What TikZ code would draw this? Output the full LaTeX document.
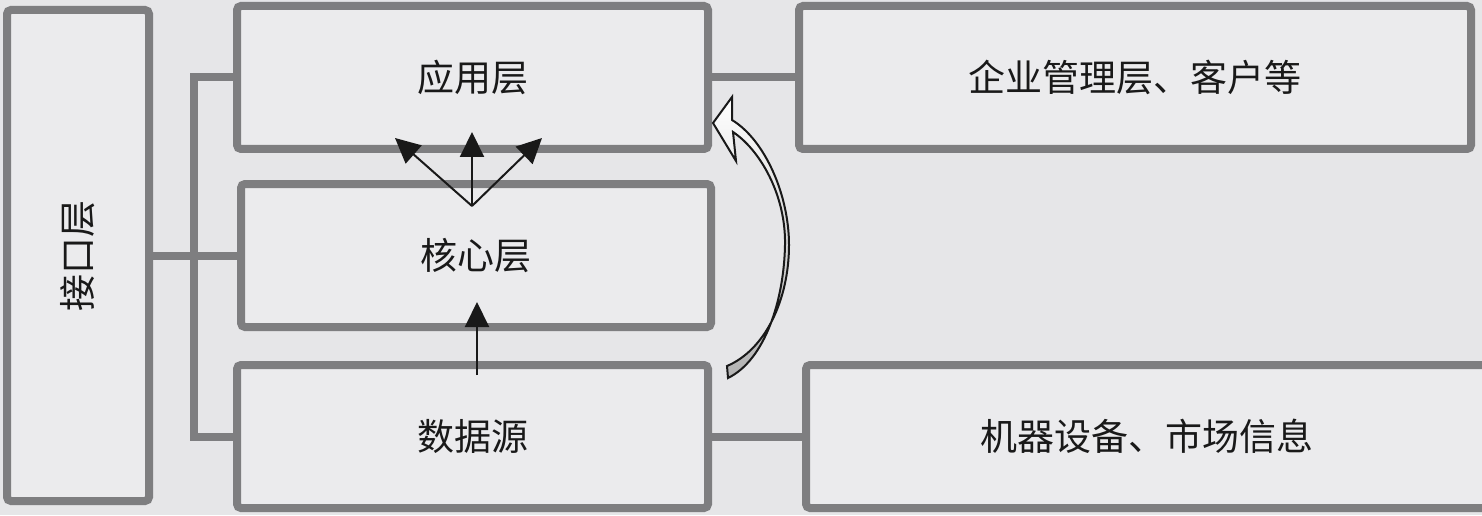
\documentclass[tikz,border=0pt]{standalone}
\usepackage{fontspec}
\usepackage{graphicx}
\usepackage{xcolor}
\usetikzlibrary{arrows.meta}
\newfontfamily\cjk{Noto Sans CJK SC}
\definecolor{bgcol}{RGB}{230,230,232}
\definecolor{boxcol}{RGB}{235,235,237}
\definecolor{edgecol}{RGB}{126,126,128}
\definecolor{inkcol}{RGB}{25,25,25}

\begin{document}
\begin{tikzpicture}[x=0.5pt,y=0.5pt,
  layer/.style={draw=edgecol,fill=boxcol,line width=4pt,rounded corners=2pt,inner sep=0pt,
    minimum height=71.5pt,text=inkcol,font=\cjk\fontsize{18.5pt}{22pt}\selectfont},
  link/.style={draw=edgecol,line width=4pt},
  flow/.style={draw=inkcol,line width=1pt,-{Triangle[length=12.5pt,width=12pt]}}]
\fill[bgcol] (0,0) rectangle (1482,515);
\useasboundingbox (0,0) rectangle (1482,515);
\node[layer,minimum width=71pt,minimum height=245.5pt] (iface) at (78,259.5) {\rotatebox{90}{接口层}};
\node[layer,minimum width=235.5pt] (app) at (472.5,437.5) {应用层};
\node[layer,minimum width=235pt] (core) at (476,259.5) {核心层};
\node[layer,minimum width=235.5pt] (data) at (472.5,78.5) {数据源};
\node[layer,minimum width=336pt] (mgmt) at (1135,437.5) {企业管理层、客户等};
\node[layer,minimum width=341pt] (dev) at (1147,78.5) {机器设备、市场信息};
% links
\coordinate (trunk) at (194,0);
\draw[link] (iface.east) -- (core.west);
\draw[link] (app.west) -- (app.west -| trunk) -- (data.west -| trunk) -- (data.west);
\draw[link] (app.east) -- (mgmt.west);
\draw[link] (data.east) -- (dev.west);
% arrows
\coordinate (fan) at (472,309);
\coordinate (fanl) at (395,377);
\coordinate (fanm) at (472,383);
\coordinate (fanr) at (542,377);
\draw[flow] (fan) -- (fanl);
\draw[flow] (fan) -- (fanm);
\draw[flow] (fan) -- (fanr);
\coordinate (up0) at (477,140);
\coordinate (up1) at (477,213);
\draw[flow] (up0) -- (up1);
\path[draw=inkcol,line width=1pt,top color=white,bottom color=gray!60]
  (713,392) -- (732,418) -- (732,395)
  .. controls (765,375) and (789,320) .. (789,270)
  .. controls (789,215) and (765,165) .. (727,149)
  -- (728,137)
  .. controls (765,155) and (784,215) .. (785,270)
  .. controls (786,320) and (760,365) .. (733,383)
  -- (736,354) -- cycle;
\end{tikzpicture}
\end{document}
